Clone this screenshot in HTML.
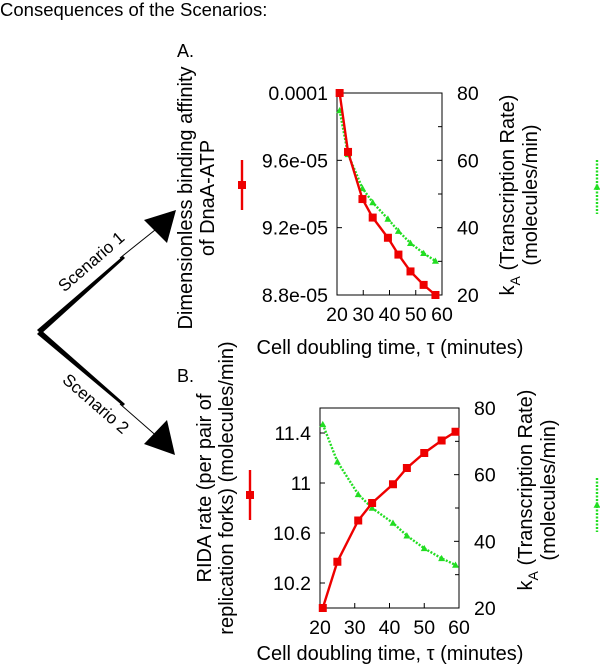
<!DOCTYPE html>
<html><head><meta charset="utf-8"><style>
html,body{margin:0;padding:0;background:#fff;}
svg{display:block;font-family:"Liberation Sans",sans-serif;}
</style></head><body>
<svg id="root" width="600" height="670" viewBox="0 0 600 670">
<text x="0" y="16" font-size="18.5">Consequences of the Scenarios:</text>
<g>
<polygon points="37,330 41,334 125,258 123,256" fill="#000"/>
<line x1="120" y1="258" x2="160" y2="226" stroke="#000" stroke-width="1"/>
<polygon points="176,210 144,220 167,243" fill="#000"/>
<polygon points="37,334 41,330 125,404 123,406" fill="#000"/>
<line x1="120" y1="404" x2="160" y2="439" stroke="#000" stroke-width="1"/>
<polygon points="175,455 144,444 167,420" fill="#000"/>
<text font-size="17" transform="translate(95,266) rotate(-41)" text-anchor="middle">Scenario 1</text>
<text font-size="17" transform="translate(92,408) rotate(41)" text-anchor="middle">Scenario 2</text>
</g>
<text x="177" y="57" font-size="18">A.</text>
<text x="177" y="382" font-size="18">B.</text>
<g id="chartA"></g>
<g id="chartB"></g>
</svg>
<script>
const ns="http://www.w3.org/2000/svg";
// Chart A data
const xA=[21,24.2,29.7,33.6,39.4,43.4,48,53,57.5];
const redA=[1.0e-4,9.65e-5,9.37e-5,9.26e-5,9.14e-5,9.04e-5,8.94e-5,8.86e-5,8.8e-5];
const greenA=[74.8,61.8,51.7,47.5,42.6,39.0,35.4,32.4,30.1];
const leftTicksA=[8.8e-5,9.2e-5,9.6e-5,1.0e-4];
const leftTickLabelsA=["8.8e-05","9.2e-05","9.6e-05","0.0001"];
const rightTicks=[20,40,60,80];
const xTicksA=[20,30,40,50,60];
// Chart B data
const xB=[20.8,25,31,35,41,45,50,55,59];
const redB=[10.0,10.37,10.70,10.84,10.99,11.12,11.24,11.34,11.41];
const greenB=[75.1,63.9,54.1,50.0,45.5,41.7,37.9,34.9,32.9];
const leftTicksB=[10.2,10.6,11,11.4];
const leftTickLabelsB=["10.2","10.6","11","11.4"];
const xTicksB=[20,30,40,50,60];

const FS=19.5;
function mk(parent,tag,attrs,name,text){
  const e=document.createElementNS(ns,tag);
  for(const k in attrs)e.setAttribute(k,attrs[k]);
  
  
  if(text!==undefined)e.textContent=text;
  parent.appendChild(e);return e;
}
function tri(cx,cy,s){return `${cx},${cy-s} ${cx-s},${cy+s*0.8} ${cx+s},${cy+s*0.8}`;}

function chart(g,cfg){
  const {x0,x1,y0,y1,xmin,xmax,lmin,lmax,rmin,rmax}=cfg;
  const sx=v=>x0+(v-xmin)/(xmax-xmin)*(x1-x0);
  const sl=v=>y1-(v-lmin)/(lmax-lmin)*(y1-y0);
  const sr=v=>y1-(v-rmin)/(rmax-rmin)*(y1-y0);
  mk(g,'rect',{x:x0,y:y0,width:x1-x0,height:y1-y0,fill:'none',stroke:'#000','stroke-width':1},'plot-frame');
  cfg.lt.forEach((t,i)=>{
    mk(g,'line',{x1:x0,x2:x0+5,y1:sl(t),y2:sl(t),stroke:'#000'},'left-tick');
    mk(g,'text',{x:x0-9,y:sl(t)+7,'font-size':FS,'text-anchor':'end'},'left-tick-label',cfg.ltl[i]);
  });
  rightTicks.forEach(t=>{
    mk(g,'line',{x1:x1-5,x2:x1,y1:sr(t),y2:sr(t),stroke:'#000'},'right-tick');
    mk(g,'text',{x:x1+15,y:sr(t)+7,'font-size':FS},'right-tick-label',String(t));
  });
  for(let t=30;t<=70;t+=20){ mk(g,'line',{x1:x1-4,x2:x1,y1:sr(t),y2:sr(t),stroke:'#000'},'right-minor-tick'); }
  cfg.xt.forEach(t=>{
    mk(g,'line',{x1:sx(t),x2:sx(t),y1:y1,y2:y1-5,stroke:'#000'},'x-tick');
    mk(g,'text',{x:sx(t),y:y1+26,'font-size':FS,'text-anchor':'middle'},'x-tick-label',String(t));
  });
  const gp=cfg.xs.map((v,i)=>sx(v)+','+sr(cfg.g[i])).join(' ');
  mk(g,'polyline',{points:gp,fill:'none',stroke:'#22dd22','stroke-width':2.4,'stroke-dasharray':'2,1.5'},'green-series-line');
  cfg.xs.forEach((v,i)=>mk(g,'polygon',{points:tri(sx(v),sr(cfg.g[i]),3.5),fill:'#22dd22'},'green-point'));
  const rp=cfg.xs.map((v,i)=>sx(v)+','+sl(cfg.r[i])).join(' ');
  mk(g,'polyline',{points:rp,fill:'none',stroke:'#ee0000','stroke-width':2.4},'red-series-line');
  cfg.xs.forEach((v,i)=>mk(g,'rect',{x:sx(v)-4,y:sl(cfg.r[i])-4,width:8,height:8,fill:'#ee0000'},'red-point'));
  mk(g,'text',{x:cfg.xlabX,y:cfg.xlabY,'font-size':20,'text-anchor':'middle'},'x-axis-title','Cell doubling time, τ (minutes)');
  const lc=cfg.lcy;
  cfg.ll.forEach((s,i)=>mk(g,'text',{transform:`translate(${cfg.llx[i]},${lc}) rotate(-90)`,'font-size':20,'text-anchor':'middle'},'left-axis-title',s));
  const rt=mk(g,'text',{transform:`translate(${cfg.rlx[0]},${cfg.rcy}) rotate(-90)`,'font-size':20,'text-anchor':'middle'},'right-axis-title');
  rt.innerHTML='k<tspan font-size="14" dy="6">A</tspan><tspan dy="-6"> (Transcription Rate)</tspan>';
  mk(g,'text',{transform:`translate(${cfg.rlx[1]},${cfg.rcy}) rotate(-90)`,'font-size':20,'text-anchor':'middle'},'right-axis-title-units','(molecules/min)');
  mk(g,'line',{x1:cfg.rk[0],x2:cfg.rk[0],y1:cfg.rk[1]-25,y2:cfg.rk[1]+25,stroke:'#ee0000','stroke-width':2.4},'red-legend-key');
  mk(g,'rect',{x:cfg.rk[0]-4,y:cfg.rk[1]-4,width:8,height:8,fill:'#ee0000'},'red-legend-marker');
  mk(g,'line',{x1:cfg.gk[0],x2:cfg.gk[0],y1:cfg.gk[1]-27,y2:cfg.gk[1]+27,stroke:'#22dd22','stroke-width':2.4,'stroke-dasharray':'2,1.5'},'green-legend-key');
  mk(g,'polygon',{points:tri(cfg.gk[0],cfg.gk[1],3.5),fill:'#22dd22'},'green-legend-marker');
}
chart(document.getElementById('chartA'),{x0:337,x1:442,y0:93,y1:295,xmin:20,xmax:60,lmin:8.8e-5,lmax:1.0e-4,rmin:20,rmax:80,
  lt:leftTicksA,ltl:leftTickLabelsA,xt:xTicksA,xs:xA,r:redA,g:greenA,xlabX:390,xlabY:354,
  ll:['Dimensionless binding affinity','of DnaA-ATP'],llx:[192,214],lcy:198,rlx:[514,537],rcy:195,rk:[242,185],gk:[597,187]});
chart(document.getElementById('chartB'),{x0:320,x1:459,y0:408,y1:608,xmin:20,xmax:60,lmin:10.0,lmax:11.6,rmin:20,rmax:80,
  lt:leftTicksB,ltl:leftTickLabelsB,xt:xTicksB,xs:xB,r:redB,g:greenB,xlabX:390,xlabY:660,
  ll:['RIDA rate (per pair of','replication forks) (molecules/min)'],llx:[211,233],lcy:488,rlx:[532,555],rcy:490,rk:[250,495],gk:[597,505]});
</script>
</body></html>
